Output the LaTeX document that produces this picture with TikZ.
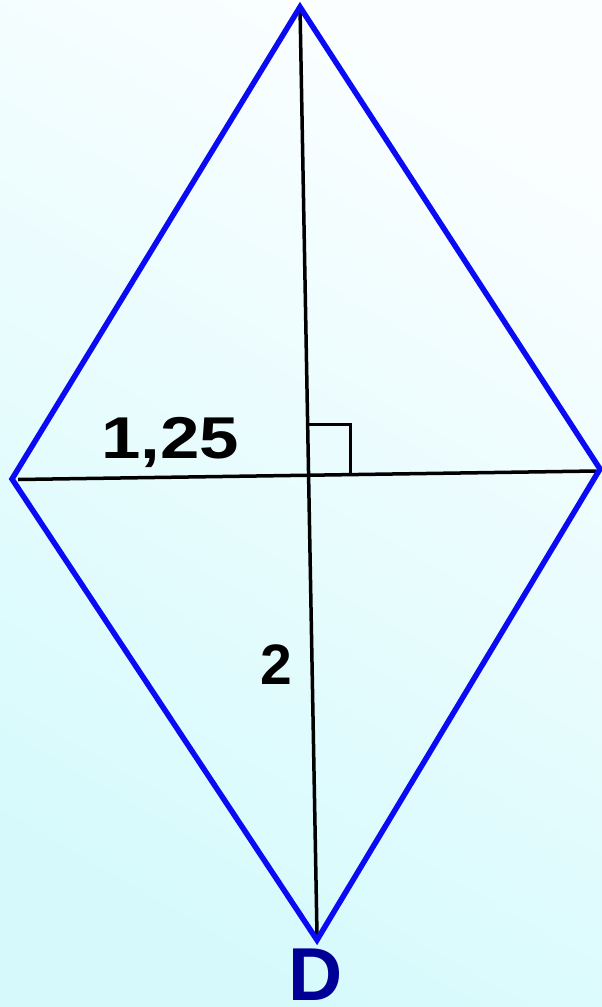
\documentclass[tikz,border=0pt]{standalone}
\usepackage{fontspec}
\setmainfont{Liberation Sans}
\definecolor{bgcyan}{RGB}{214,250,252}
\definecolor{bgwhite}{RGB}{250,254,255}
\definecolor{rhomb}{RGB}{10,10,245}
\definecolor{navy}{RGB}{0,0,150}
\begin{document}
\begin{tikzpicture}[x=1pt,y=-1pt,
  side/.style={draw=rhomb,line width=5.5pt,line join=miter},
  diag/.style={draw=black,line width=3.5pt},
  lbl/.style={font=\bfseries\fontsize{59}{66}\selectfont,inner sep=0pt,anchor=base}]
\shade[top color=bgwhite,bottom color=bgcyan,shading angle=-30] (0,0) rectangle (602,1007);
\useasboundingbox (0,0) rectangle (602,1007);
\coordinate (T) at (300,7);
\coordinate (L) at (12,479);
\coordinate (R) at (600,469);
\coordinate (B) at (317,940);
\coordinate (O) at (309,474);
\coordinate (H1) at (18,479.5);
\coordinate (H2) at (596,471);
\coordinate (V2) at (317,935);
\draw[diag] (H1) -- (H2);
\draw[diag] (T) -- (V2);
\coordinate (Q1) at (309,424);
\coordinate (Q2) at (350,424);
\coordinate (Q3) at (350,473);
\draw[diag,line width=3pt] (Q1) -- (Q2) -- (Q3);
\draw[side] (T) -- (R) -- (B) -- (L) -- cycle;
\node[lbl,xscale=1.2] (n125) at (170,458) {1,25};
\node[lbl,font=\bfseries\fontsize{57}{64}\selectfont] (n2) at (276,684) {2};
\node[lbl,text=navy,font=\bfseries\fontsize{75}{84}\selectfont] (nD) at (316,1000) {D};
\end{tikzpicture}
\end{document}
